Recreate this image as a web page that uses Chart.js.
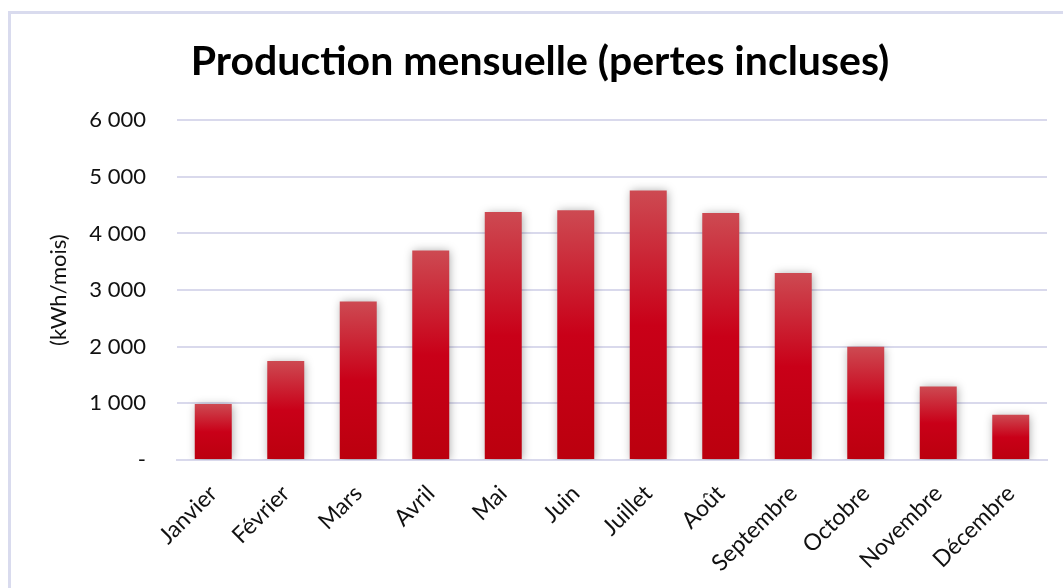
<!DOCTYPE html>
<html lang="fr">
<head>
<meta charset="utf-8">
<title>Production mensuelle</title>
<script src="https://cdn.jsdelivr.net/npm/chart.js@4.4.1/dist/chart.umd.min.js"></script>
<style>
  html, body { margin: 0; padding: 0; background: #fff; overflow: hidden; }
  #frame {
    position: absolute; left: 8px; top: 11px; width: 1100px; height: 620px;
    border-left: 3px solid #d9dbee; border-top: 3px solid #d9dbee;
  }
  #wrap { position: absolute; left: 0; top: 0; width: 1063px; height: 588px; }
</style>
</head>
<body>
<div id="frame"></div>
<div id="wrap"><canvas id="chart"></canvas></div>
<script>
  // Data
  const months = ['Janvier', 'Février', 'Mars', 'Avril', 'Mai', 'Juin',
                  'Juillet', 'Août', 'Septembre', 'Octobre', 'Novembre', 'Décembre'];
  const production = [990, 1750, 2800, 3700, 4380, 4410, 4760, 4360, 3300, 2000, 1300, 800];
  const yTickLabels = ['-', '1 000', '2 000', '3 000', '4 000', '5 000', '6 000'];

  const GRID = '#d9d9ec';

  /* ── soft shadow behind the bars ───────────────────────────── */
  const barShadow = {
    id: 'barShadow',
    beforeDatasetsDraw(chart) {
      const ctx = chart.ctx;
      ctx.save();
      ctx.shadowColor = 'rgba(0,0,0,0.35)';
      ctx.shadowBlur = 9;
      ctx.shadowOffsetX = 1;
      ctx.shadowOffsetY = 1;
    },
    afterDatasetsDraw(chart) {
      chart.ctx.restore();
    }
  };

  // gradient per bar, from its own top to the baseline
  function barGradient(context) {
    const chart = context.chart;
    const { ctx, chartArea, scales } = chart;
    if (!chartArea || context.type !== 'data') return '#c8001a';
    const v = context.raw;
    const top = scales.y.getPixelForValue(v);
    const bottom = scales.y.getPixelForValue(0);
    if (!isFinite(top) || !isFinite(bottom) || bottom - top < 1) return '#c8001a';
    const g = ctx.createLinearGradient(0, top, 0, bottom);
    g.addColorStop(0, '#cd4a52');
    g.addColorStop(0.5, '#c90018');
    g.addColorStop(1, '#bb000e');
    return g;
  }

  new Chart(document.getElementById('chart'), {
    type: 'bar',
    data: {
      labels: months,
      datasets: [{
        data: production,
        backgroundColor: barGradient,
        borderWidth: 0,
        barPercentage: 0.51,
        categoryPercentage: 1.0
      }]
    },
    plugins: [barShadow],
    options: {
      responsive: true,
      maintainAspectRatio: false,
      animation: false,
      layout: { padding: { left: 33, right: 16, top: 0, bottom: 0 } },
      plugins: {
        legend: { display: false },
        tooltip: { enabled: false },
        title: {
          display: true,
          text: 'Production mensuelle (pertes incluses)',
          color: '#000',
          font: { family: 'Lato', size: 41, weight: 'bold', lineHeight: 1.2 },
          padding: { top: 37, bottom: 34 }
        }
      },
      scales: {
        x: {
          grid: { display: false },
          border: { display: true, color: GRID, width: 2 },
          ticks: {
            color: '#111',
            font: { family: 'Lato', size: 23 },
            minRotation: 45,
            maxRotation: 45,
            padding: 12,
            labelOffset: 0
          },
          afterFit(scale) { scale.height = 128; }
        },
        y: {
          min: 0,
          max: 6000,
          grid: { color: GRID, lineWidth: 2, drawTicks: false },
          border: { display: false },
          ticks: {
            stepSize: 1000,
            color: '#111',
            padding: 31,
            font: { family: 'Lato', size: 22 },
            callback: (v) => yTickLabels[Math.round(v / 1000)]
          },
          title: {
            display: true,
            text: '(kWh/mois)',
            color: '#111',
            font: { family: 'Lato', size: 22 },
            padding: { top: 13, bottom: 0 }
          },
          afterFit(scale) { scale.width = 144; }
        }
      }
    }
  });
</script>
</body>
</html>
